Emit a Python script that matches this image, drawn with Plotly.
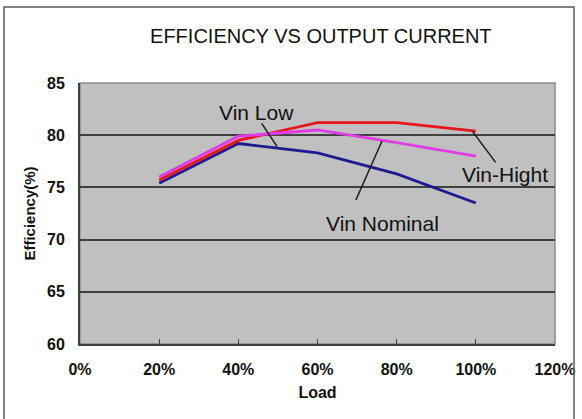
import plotly.graph_objects as go

load = [0.2, 0.4, 0.6, 0.8, 1.0]
vin_high = [75.7, 79.5, 81.2, 81.2, 80.4]
vin_nominal = [76.0, 79.9, 80.5, 79.3, 78.0]
vin_low = [75.4, 79.2, 78.3, 76.3, 73.5]

x_ticks = [0, 0.2, 0.4, 0.6, 0.8, 1.0, 1.2]
y_ticks = [60, 65, 70, 75, 80, 85]

fig = go.Figure()
fig.add_trace(go.Scatter(x=load, y=vin_low, mode="lines", line=dict(color="#1c1c8e", width=2.8), name="Vin Low"))
fig.add_trace(go.Scatter(x=load, y=vin_high, mode="lines", line=dict(color="#e5161e", width=2.8), name="Vin-Hight"))
fig.add_trace(go.Scatter(x=load, y=vin_nominal, mode="lines", line=dict(color="#e03ce6", width=2.8), name="Vin Nominal"))

font_family = "Liberation Sans, Arial, sans-serif"

# leader lines
leaders = [
    (0.459, 81.14, 0.498, 78.9),
    (0.763, 79.44, 0.697, 73.8),
    (0.992, 80.34, 1.05, 77.4),
]
for x0, y0, x1, y1 in leaders:
    fig.add_shape(type="line", x0=x0, y0=y0, x1=x1, y1=y1, xref="x", yref="y",
                  line=dict(color="#1a1a1a", width=1.5))

labels = [("Vin Low", 0.447, 82.2), ("Vin Nominal", 0.763, 71.5), ("Vin-Hight", 1.073, 76.2)]
for t, x, y in labels:
    fig.add_annotation(x=x, y=y, text=t, showarrow=False, xref="x", yref="y",
                       font=dict(family=font_family, size=21, color="#111"))

# plot area frame (lighter right/top edge)
fig.add_shape(type="rect", xref="paper", yref="paper", x0=0, y0=0, x1=1, y1=1,
              line=dict(color="#8a8a8a", width=1.5), layer="below")
# outer chart border
fig.add_shape(type="rect", xref="paper", yref="paper", x0=-0.16, y0=-0.31, x1=1.04, y1=1.291,
              line=dict(color="#5a5a5a", width=1.5))

fig.update_layout(
    width=582, height=419,
    margin=dict(l=80, r=27, t=83, b=75, autoexpand=False),
    paper_bgcolor="white", plot_bgcolor="#c0c0c0",
    showlegend=False,
    title=dict(text="EFFICIENCY VS OUTPUT CURRENT", x=0.507, xref="paper", xanchor="center",
               y=0.915, yref="container", yanchor="middle",
               font=dict(family=font_family, size=20, color="#111")),
    font=dict(family=font_family, color="#111"),
)
fig.update_xaxes(range=[0, 1.2], tickvals=x_ticks, tickformat=".0%", showgrid=False, zeroline=False,
                 automargin=False,
                 showline=True, linecolor="#404040", linewidth=2,
                 ticks="inside", ticklen=5, tickcolor="#404040",
                 tickfont=dict(family=font_family, size=16, color="#111", weight="bold"),
                 ticklabelstandoff=10,
                 title=dict(text="Load", font=dict(family=font_family, size=16, color="#111", weight="bold"), standoff=10))
fig.update_yaxes(range=[60, 85], tickvals=y_ticks, showgrid=True, gridcolor="#404040", gridwidth=1.5,
                 automargin=False,
                 zeroline=False, showline=True, linecolor="#404040", linewidth=2,
                 tickfont=dict(family=font_family, size=16, color="#111", weight="bold"),
                 ticklabelstandoff=10,
                 title=dict(text="Efficiency(%)", font=dict(family=font_family, size=15, color="#111", weight="bold"), standoff=8))

fig.write_html("out.html", config={"displayModeBar": False},
               post_script="document.body.style.margin='0';document.body.style.overflow='hidden';")
